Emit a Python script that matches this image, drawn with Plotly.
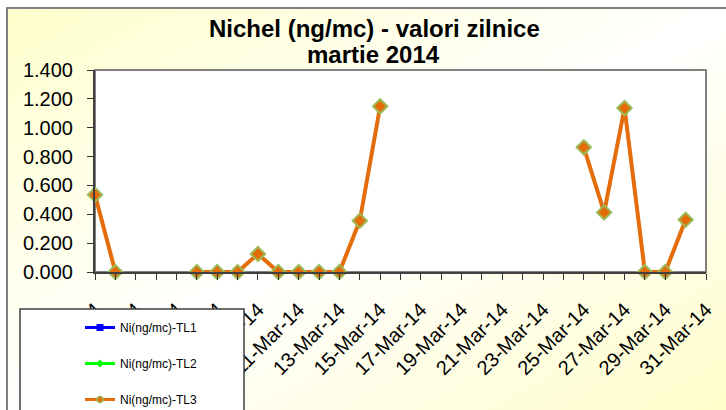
import base64
import plotly.graph_objects as go

# ---- data ----
dates = [f"2014-03-{d:02d}" for d in range(1, 32)]
tl1 = [None] * 31
tl2 = [None] * 31
tl3 = [0.535, 0.0, None, None, None, 0.0, 0.0, 0.0, 0.125, 0.0,
       0.0, 0.0, 0.0, 0.355, 1.148, None, None, None, None, None,
       None, None, None, None, 0.864, 0.413, 1.136, 0.0, 0.0, 0.362,
       None]
series_names = ["Ni(ng/mc)-TL1", "Ni(ng/mc)-TL2", "Ni(ng/mc)-TL3"]
title_lines = ["Nichel (ng/mc) - valori zilnice", "martie 2014"]

W, H = 726, 410
ML, MR, MT, MB = 95, 20, 70, 138
PW, PH = W - ML - MR, H - MT - MB


def px_x(p):
    return (p - ML) / PW


def px_y(p):
    return (H - MB - p) / PH


FONT = "Liberation Sans, Arial, sans-serif"
ORANGE, GREEN_EDGE = "#E46C0A", "#9BBB59"

fig = go.Figure()
fig.add_trace(go.Scatter(x=dates, y=tl1, name=series_names[0], mode="lines+markers",
                         line=dict(color="#0000FF", width=3),
                         marker=dict(symbol="square", size=7, color="#0000FF"),
                         legendgroup="a"))
fig.add_trace(go.Scatter(x=dates, y=tl2, name=series_names[1], mode="lines+markers",
                         line=dict(color="#00FF00", width=3),
                         marker=dict(symbol="diamond", size=6, color="#00FF00"),
                         legendgroup="b"))
# plotted TL3 series (large markers) – its legend entry is drawn by the twin below
fig.add_trace(go.Scatter(x=dates, y=tl3, name=series_names[2], mode="lines+markers",
                         line=dict(color=ORANGE, width=4),
                         marker=dict(symbol="diamond", size=11, color=ORANGE,
                                     line=dict(color=GREEN_EDGE, width=2)),
                         cliponaxis=False,
                         legendgroup="c", showlegend=False))
fig.add_trace(go.Scatter(x=dates, y=[None] * len(dates), name=series_names[2],
                         mode="lines+markers",
                         line=dict(color=ORANGE, width=3),
                         marker=dict(symbol="circle", size=6, color=ORANGE,
                                     line=dict(color=GREEN_EDGE, width=1.5)),
                         legendgroup="c", hoverinfo="skip"))

svg = (f"<svg xmlns='http://www.w3.org/2000/svg' width='{W}' height='{H}' preserveAspectRatio='none'>"
       "<defs><linearGradient id='g' x1='0' y1='0' x2='1' y2='1'>"
       "<stop offset='0' stop-color='#FFFFCC'/><stop offset='0.5' stop-color='#FFFFFF'/>"
       "<stop offset='1' stop-color='#FFFDC8'/></linearGradient></defs>"
       f"<rect width='{W}' height='{H}' fill='url(#g)'/></svg>")
src = "data:image/svg+xml;base64," + base64.b64encode(svg.encode()).decode()

fig.update_layout(
    width=W, height=H,
    margin=dict(l=ML, r=MR, t=MT, b=MB, autoexpand=False),
    paper_bgcolor="white", plot_bgcolor="white",
    font=dict(family=FONT, color="black"),
    annotations=[
        dict(text=f"<b>{title_lines[0]}</b>", xref="paper", yref="paper",
             x=px_x(374), y=px_y(28), xanchor="center", yanchor="middle",
             showarrow=False, font=dict(size=24, family=FONT, color="black")),
        dict(text=f"<b>{title_lines[1]}</b>", xref="paper", yref="paper",
             x=px_x(373), y=px_y(55), xanchor="center", yanchor="middle",
             showarrow=False, font=dict(size=24, family=FONT, color="black")),
    ],
    images=[dict(source=src, xref="paper", yref="paper",
                 x=px_x(7), y=px_y(8), sizex=(735 - 7) / PW, sizey=(420 - 8) / PH,
                 xanchor="left", yanchor="top", sizing="stretch", layer="below")],
    shapes=[
        dict(type="rect", xref="paper", yref="paper", x0=px_x(7), x1=px_x(740),
             y0=px_y(420), y1=px_y(8), line=dict(color="#808080", width=2), layer="below"),
        dict(type="rect", xref="paper", yref="paper", x0=0, x1=1, y0=0, y1=1,
             fillcolor="white", line=dict(color="#808080", width=2), layer="below"),
        dict(type="rect", xref="paper", yref="paper", x0=px_x(20), x1=px_x(244),
             y0=px_y(425), y1=px_y(309), fillcolor="white",
             line=dict(color="#404040", width=1.5), layer="above"),
    ],
    xaxis=dict(type="date", range=["2014-03-01", "2014-03-31"],
               tick0="2014-03-01", dtick=2 * 86400000, tickformat="%-d-%b-%y",
               tickangle=-45, tickfont=dict(size=20), ticklabelstandoff=10,
               ticks="outside", ticklen=6, tickcolor="#333333", tickwidth=1,
               minor=dict(dtick=86400000, tick0="2014-03-01", ticks="outside",
                          ticklen=6, tickcolor="#333333", tickwidth=1),
               showline=True, linecolor="#404040", linewidth=2,
               showgrid=False, zeroline=False),
    yaxis=dict(range=[0, 1.4], dtick=0.2, tickformat=".3f", tickfont=dict(size=20),
               ticks="outside", ticklen=6, tickcolor="#333333", ticklabelstandoff=10,
               showline=True, linecolor="#404040", linewidth=2,
               showgrid=False, zeroline=False),
    legend=dict(x=px_x(80), y=px_y(313), xanchor="left", yanchor="top",
                bgcolor="rgba(0,0,0,0)", borderwidth=0,
                font=dict(size=12, family=FONT, color="black"),
                traceorder="grouped", tracegroupgap=17),
    showlegend=True,
)

fig.write_html("out.html", config={"displayModeBar": False},
               post_script="document.body.style.margin='0';")
